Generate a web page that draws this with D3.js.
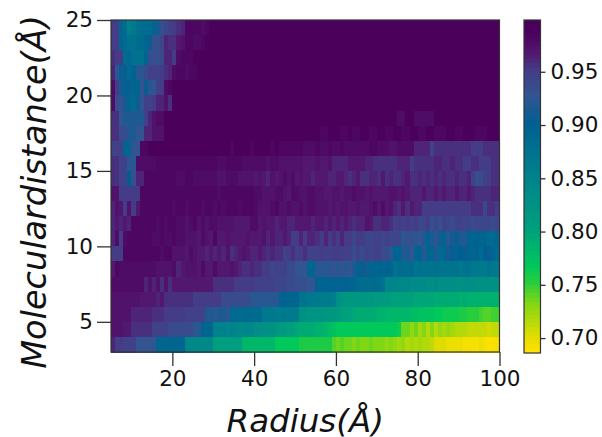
<!DOCTYPE html>
<meta charset="utf-8">
<script src="https://d3js.org/d3.v7.min.js"></script>
<style>
    html, body { margin: 0; background: #fff; overflow: hidden; }
    text { font-family: "DejaVu Sans", sans-serif; fill: #111; }
</style>
<div id="chart"></div>
<script>
// tick labels
var radiusTicks = [20, 40, 60, 80, 100];
var distanceTicks = [5, 10, 15, 20, 25];
var colorTicks = [0.70, 0.75, 0.80, 0.85, 0.90, 0.95];

// colorbar stops
var colorStops = [0.686, 0.70, 0.73, 0.75, 0.765, 0.80, 0.85, 0.90, 0.925, 0.95, 0.965, 0.985, 0.9986];
var colorValues = ["#ffe100", "#e1dc00", "#82d714", "#28cd3c", "#00c85a", "#00a07d", "#00828c", "#005f91", "#325591", "#443c87", "#52186f", "#4b005c", "#4a005a"];

// cell values, top row (distance 24-25) first, radius 5 to 100 left to right
var cells = [
[.95,.95,.89,.88,.85,.865,.875,.88,.88,.885,.89,.91,.93,.94,.945,.95,.955,.96,.98,.98,.98,.98,.975,.98,.985,
.99,.99,.985,.985,.99,.99,.99,.99,.99,.99,.99,.99,.99,.99,.99,.99,.99,.99,.99,.99,.99,.99,.99,.99,.99,
.99,.99,.99,.99,.99,.99,.99,.99,.99,.99,.99,.99,.99,.99,.99,.99,.99,.99,.99,.99,.99,.99,.99,.99,.99,
.99,.99,.99,.99,.99,.99,.99,.99,.99,.99,.99,.99,.99,.99,.99,.99,.99,.99,.99,.99],
[.95,.95,.89,.885,.875,.875,.88,.885,.89,.905,.93,.93,.94,.96,.955,.955,.965,.97,.98,.98,.975,.975,.98,.985,.99,
.99,.99,.99,.99,.99,.99,.99,.99,.99,.99,.99,.99,.99,.99,.99,.99,.99,.99,.99,.99,.99,.99,.99,.99,.99,
.99,.99,.99,.99,.99,.99,.985,.985,.99,.99,.99,.99,.99,.99,.99,.99,.99,.99,.99,.99,.99,.99,.99,.99,.99,
.99,.99,.99,.99,.99,.99,.99,.99,.99,.99,.99,.99,.99,.99,.99,.99,.99,.99,.99,.99],
[.955,.95,.95,.88,.885,.875,.875,.875,.89,.93,.93,.93,.935,.96,.96,.95,.975,.98,.98,.98,.985,.985,.99,.99,.99,
.99,.99,.99,.99,.99,.99,.99,.99,.99,.99,.99,.99,.99,.99,.99,.99,.99,.99,.99,.99,.99,.99,.99,.99,.99,
.99,.99,.99,.99,.99,.99,.985,.985,.99,.99,.99,.99,.99,.99,.99,.99,.99,.99,.99,.99,.99,.99,.99,.99,.99,
.99,.99,.99,.99,.99,.99,.99,.99,.99,.99,.99,.99,.99,.99,.99,.99,.99,.99,.99,.99],
[.96,.92,.905,.905,.885,.895,.92,.92,.935,.945,.945,.945,.95,.955,.96,.975,.98,.98,.975,.98,.98,.985,.985,.985,.99,
.99,.99,.99,.99,.99,.99,.99,.99,.99,.99,.99,.99,.99,.99,.99,.99,.99,.985,.99,.99,.99,.99,.99,.99,.99,
.985,.985,.99,.99,.99,.985,.985,.985,.99,.99,.99,.99,.99,.99,.99,.99,.99,.99,.99,.99,.99,.99,.99,.99,.99,
.99,.99,.99,.99,.99,.99,.99,.99,.99,.99,.99,.99,.99,.99,.99,.99,.99,.99,.99,.99],
[.975,.95,.91,.895,.905,.89,.895,.925,.905,.92,.925,.945,.95,.975,.98,.985,.985,.985,.99,.99,.99,.99,.99,.99,.99,
.99,.99,.99,.99,.99,.99,.99,.99,.99,.99,.99,.99,.99,.99,.99,.99,.99,.99,.99,.99,.99,.985,.985,.985,.99,
.99,.985,.985,.985,.985,.985,.985,.99,.99,.99,.99,.99,.99,.99,.99,.99,.99,.99,.99,.99,.99,.99,.99,.99,.99,
.99,.99,.99,.99,.99,.99,.99,.99,.99,.99,.99,.99,.99,.99,.99,.99,.99,.99,.99,.99],
[.975,.935,.93,.91,.89,.885,.91,.925,.945,.945,.95,.96,.96,.97,.955,.985,.985,.985,.985,.99,.99,.99,.99,.99,.99,
.99,.99,.99,.99,.99,.99,.99,.99,.99,.99,.99,.99,.99,.99,.99,.99,.99,.99,.99,.99,.985,.985,.985,.985,.985,
.985,.985,.985,.985,.985,.985,.985,.985,.985,.985,.985,.985,.985,.985,.985,.985,.985,.99,.99,.99,.985,.99,.99,.99,.99,
.99,.99,.99,.99,.99,.99,.99,.99,.99,.99,.99,.99,.99,.99,.99,.99,.99,.99,.99,.99],
[.955,.955,.925,.915,.915,.915,.915,.915,.945,.96,.97,.975,.975,.985,.985,.99,.99,.99,.99,.99,.99,.99,.99,.99,.99,
.99,.99,.99,.99,.99,.99,.99,.99,.99,.99,.99,.99,.99,.99,.99,.99,.99,.99,.99,.99,.985,.985,.985,.985,.985,
.985,.985,.985,.985,.985,.985,.985,.985,.985,.985,.985,.985,.985,.985,.985,.985,.985,.985,.985,.985,.975,.975,.985,.985,.975,
.975,.975,.975,.975,.985,.985,.985,.985,.985,.985,.985,.985,.985,.985,.985,.985,.985,.985,.985,.985],
[.955,.955,.935,.935,.915,.915,.925,.925,.96,.96,.97,.97,.97,.985,.985,.985,.985,.985,.99,.99,.99,.99,.99,.99,.99,
.99,.99,.99,.99,.99,.99,.99,.99,.99,.99,.99,.99,.99,.99,.99,.99,.99,.99,.99,.99,.985,.985,.985,.985,.985,
.985,.98,.98,.985,.985,.985,.98,.98,.985,.98,.98,.985,.985,.98,.98,.985,.985,.98,.98,.985,.985,.98,.98,.985,.985,
.98,.98,.985,.985,.98,.98,.98,.985,.985,.98,.98,.985,.985,.985,.98,.98,.98,.985,.985,.985],
[.945,.945,.945,.89,.89,.925,.925,.98,.98,.985,.985,.985,.985,.985,.985,.985,.985,.985,.985,.985,.985,.985,.985,.985,.985,
.985,.985,.985,.985,.98,.985,.985,.985,.985,.98,.985,.985,.985,.985,.98,.985,.98,.98,.98,.98,.98,.98,.975,.975,.975,
.98,.975,.975,.98,.975,.975,.98,.975,.975,.975,.975,.975,.975,.98,.98,.975,.975,.975,.97,.97,.975,.975,.975,.975,.96,
.96,.96,.96,.945,.955,.955,.955,.955,.955,.955,.955,.955,.955,.95,.95,.95,.955,.955,.955,.955],
[.955,.955,.945,.945,.92,.92,.975,.975,.975,.975,.975,.98,.98,.98,.98,.98,.98,.98,.98,.98,.98,.98,.98,.98,.98,
.98,.975,.975,.98,.98,.98,.98,.975,.975,.975,.975,.975,.975,.97,.975,.975,.97,.97,.97,.97,.97,.97,.965,.965,.965,
.97,.965,.965,.97,.96,.96,.96,.96,.965,.965,.965,.965,.96,.96,.955,.955,.955,.955,.955,.955,.96,.96,.96,.95,.955,
.955,.955,.955,.955,.96,.96,.955,.955,.96,.955,.955,.95,.95,.955,.955,.95,.95,.95,.955,.955],
[.955,.955,.945,.945,.90,.93,.96,.96,.98,.98,.98,.98,.98,.98,.98,.98,.975,.975,.98,.98,.975,.975,.975,.975,.975,
.975,.97,.97,.975,.975,.975,.97,.97,.97,.97,.965,.97,.965,.96,.97,.965,.97,.975,.97,.975,.965,.97,.965,.965,.96,
.965,.965,.965,.96,.96,.965,.965,.96,.955,.96,.965,.955,.955,.96,.96,.955,.965,.955,.96,.955,.955,.96,.965,.955,.955,
.96,.955,.96,.955,.96,.955,.96,.955,.955,.96,.955,.955,.96,.945,.93,.935,.945,.95,.955,.955],
[.97,.97,.95,.95,.95,.95,.95,.98,.98,.98,.98,.98,.98,.98,.98,.98,.98,.98,.98,.98,.98,.98,.98,.98,.98,
.98,.975,.98,.98,.98,.98,.98,.98,.98,.98,.975,.975,.97,.97,.97,.975,.975,.97,.965,.975,.975,.97,.97,.975,.975,
.97,.97,.965,.965,.97,.97,.965,.97,.97,.975,.97,.97,.965,.97,.965,.965,.965,.965,.97,.97,.965,.97,.965,.96,.96,
.96,.965,.96,.96,.965,.96,.965,.96,.96,.965,.96,.96,.965,.96,.955,.955,.955,.955,.96,.96],
[.96,.97,.965,.95,.97,.95,.965,.98,.98,.98,.98,.98,.98,.98,.98,.975,.98,.98,.975,.98,.98,.98,.975,.98,.98,
.975,.98,.975,.98,.98,.98,.975,.98,.98,.98,.975,.97,.97,.97,.975,.98,.97,.97,.975,.97,.97,.975,.97,.975,.975,
.97,.97,.97,.965,.97,.965,.97,.97,.965,.965,.97,.965,.965,.97,.975,.965,.975,.965,.97,.96,.955,.965,.955,.965,.96,
.96,.95,.95,.95,.95,.95,.95,.95,.95,.95,.95,.95,.95,.955,.955,.955,.94,.955,.955,.95],
[.96,.965,.96,.965,.96,.98,.98,.98,.98,.98,.98,.975,.98,.975,.98,.98,.975,.975,.97,.975,.98,.97,.975,.97,.975,
.975,.97,.97,.97,.97,.965,.965,.965,.965,.975,.975,.965,.97,.965,.965,.96,.965,.965,.96,.96,.965,.965,.965,.965,.96,
.965,.965,.96,.965,.96,.965,.96,.965,.96,.955,.96,.96,.97,.965,.955,.955,.96,.96,.955,.945,.95,.945,.95,.945,.95,
.94,.94,.95,.93,.94,.93,.945,.94,.935,.945,.945,.94,.94,.935,.94,.94,.94,.94,.935,.94],
[.96,.975,.95,.975,.98,.98,.98,.98,.98,.98,.975,.975,.98,.975,.975,.98,.975,.975,.97,.97,.97,.965,.975,.97,.965,
.98,.965,.965,.97,.965,.965,.965,.965,.97,.965,.965,.965,.97,.96,.965,.96,.96,.965,.96,.95,.95,.96,.95,.96,.96,
.955,.95,.96,.95,.955,.95,.96,.95,.95,.94,.95,.95,.94,.94,.945,.945,.94,.945,.94,.94,.94,.92,.93,.93,.92,
.925,.915,.895,.915,.92,.91,.89,.92,.91,.905,.915,.915,.895,.895,.895,.89,.89,.885,.885,.89],
[.95,.95,.95,.98,.98,.98,.98,.98,.98,.98,.98,.98,.975,.98,.98,.97,.97,.97,.965,.975,.97,.965,.965,.96,.965,
.96,.965,.96,.97,.955,.96,.965,.97,.965,.96,.96,.965,.96,.955,.96,.955,.955,.945,.95,.955,.945,.95,.955,.945,.945,
.945,.95,.945,.945,.95,.95,.945,.945,.945,.935,.945,.935,.945,.94,.945,.945,.935,.935,.92,.895,.895,.915,.915,.925,.89,
.895,.92,.89,.89,.915,.885,.89,.91,.905,.895,.9,.905,.895,.89,.895,.885,.9,.905,.89,.885],
[.965,.98,.975,.975,.975,.975,.975,.975,.975,.975,.975,.97,.97,.97,.97,.975,.96,.965,.97,.97,.97,.965,.975,.965,.965,
.975,.965,.965,.965,.97,.965,.96,.955,.955,.96,.955,.955,.95,.95,.94,.945,.945,.945,.935,.935,.925,.925,.925,.89,.89,
.92,.92,.92,.92,.925,.92,.925,.92,.925,.915,.895,.905,.91,.89,.89,.895,.89,.895,.89,.875,.88,.88,.88,.88,.87,
.875,.87,.87,.87,.875,.87,.87,.87,.87,.87,.865,.87,.87,.865,.865,.86,.86,.87,.865,.865],
[.975,.975,.975,.975,.975,.975,.975,.975,.96,.97,.96,.97,.955,.97,.955,.965,.965,.965,.965,.965,.965,.965,.965,.965,.965,
.955,.955,.955,.955,.955,.95,.95,.95,.95,.95,.945,.945,.945,.945,.945,.94,.94,.94,.935,.935,.93,.93,.93,.925,.925,
.895,.895,.895,.895,.895,.895,.895,.895,.89,.89,.885,.88,.88,.88,.885,.88,.875,.845,.845,.845,.845,.84,.84,.835,.835,
.835,.835,.83,.83,.835,.83,.83,.83,.83,.825,.825,.83,.83,.83,.825,.825,.825,.825,.825,.825],
[.97,.97,.97,.97,.97,.97,.97,.965,.965,.965,.965,.96,.965,.955,.955,.955,.955,.955,.955,.955,.95,.95,.95,.95,.95,
.95,.95,.935,.935,.935,.935,.935,.935,.935,.92,.92,.92,.92,.92,.92,.92,.89,.895,.89,.89,.89,.87,.87,.865,.865,
.865,.86,.86,.86,.855,.83,.82,.815,.815,.815,.815,.815,.815,.815,.81,.81,.81,.81,.805,.80,.80,.80,.80,.80,.795,
.795,.795,.795,.795,.79,.79,.79,.79,.79,.79,.785,.79,.785,.785,.785,.785,.785,.785,.785,.785],
[.97,.97,.97,.97,.97,.96,.96,.96,.96,.96,.955,.955,.955,.95,.95,.95,.95,.95,.945,.945,.945,.945,.945,.915,.915,
.92,.915,.915,.92,.885,.885,.88,.885,.885,.885,.88,.885,.865,.865,.865,.86,.86,.865,.86,.86,.86,.825,.825,.82,.82,
.82,.82,.815,.815,.815,.81,.80,.80,.80,.795,.79,.79,.79,.79,.79,.785,.785,.78,.78,.78,.78,.78,.78,.775,.775,
.77,.77,.77,.77,.765,.765,.76,.76,.76,.76,.755,.755,.75,.75,.75,.745,.74,.74,.745,.745],
[.97,.97,.97,.965,.965,.955,.955,.955,.955,.955,.945,.945,.945,.945,.935,.935,.935,.935,.935,.935,.92,.92,.89,.89,.89,
.85,.85,.85,.845,.85,.845,.84,.84,.845,.84,.83,.83,.825,.825,.825,.815,.81,.81,.80,.80,.795,.79,.79,.79,.79,
.785,.785,.78,.775,.77,.765,.765,.765,.765,.765,.765,.765,.765,.765,.765,.765,.765,.765,.765,.765,.76,.735,.735,.725,.735,
.72,.73,.715,.73,.715,.725,.72,.725,.72,.715,.715,.715,.71,.71,.71,.71,.71,.705,.71,.71],
[.96,.95,.95,.945,.945,.945,.925,.925,.925,.925,.925,.89,.89,.89,.89,.89,.89,.89,.84,.84,.84,.84,.84,.84,.84,
.805,.805,.805,.805,.805,.805,.805,.78,.78,.78,.78,.78,.78,.78,.78,.765,.765,.765,.765,.765,.765,.755,.755,.755,.755,
.755,.755,.755,.755,.74,.735,.74,.735,.735,.73,.735,.73,.73,.735,.73,.73,.73,.725,.73,.725,.72,.725,.715,.72,.715,
.72,.715,.715,.71,.70,.70,.70,.695,.695,.695,.695,.69,.69,.69,.69,.695,.69,.688,.688,.69]
];

var margin = {left: 111, right: 499.5, top: 20, bottom: 352};
var barLeft = 524, barRight = 540.5, barTop = 20, barBottom = 353;

var svg = d3.select("#chart").append("svg")
    .attr("width", 602)
    .attr("height", 437);

var x = d3.scaleLinear().domain([5, 100]).range([margin.left, margin.right]);
var y = d3.scaleLinear().domain([3, 25]).range([margin.bottom, margin.top]);
var color = d3.scaleLinear().domain(colorStops).range(colorValues);
var barScale = d3.scaleLinear().domain([0.686, 0.9986]).range([barBottom, barTop]);

// heatmap cells
svg.append("g").attr("shape-rendering", "crispEdges").selectAll("g")
    .data(cells)
    .join("g")
    .each(function(row, i) {
        d3.select(this).selectAll("rect")
            .data(row)
            .join("rect")
            .attr("x", function(d, j) { return x(5 + j); })
            .attr("y", y(25 - i))
            .attr("width", x(6) - x(5) + 0.5)
            .attr("height", y(24) - y(25) + 0.5)
            .attr("fill", function(d) { return color(d); });
    });

// axes
var xAxis = svg.append("g")
    .attr("transform", "translate(0," + margin.bottom + ")")
    .call(d3.axisBottom(x).tickValues(radiusTicks).tickSize(14).tickPadding(5));
var yAxis = svg.append("g")
    .attr("transform", "translate(" + margin.left + ",0)")
    .call(d3.axisLeft(y).tickValues(distanceTicks).tickSize(14).tickPadding(4));

// colorbar, drawn as thin bands like the original
var bands = d3.range(0.686, 0.9946, 0.004);
svg.append("g").attr("shape-rendering", "crispEdges").selectAll("rect")
    .data(bands)
    .join("rect")
    .attr("x", barLeft)
    .attr("width", barRight - barLeft)
    .attr("y", function(d) { return barScale(d + 0.004) - 0.5; })
    .attr("height", function(d) { return barScale(d) - barScale(d + 0.004) + 0.5; })
    .attr("fill", function(d) { return color(d); });

var barAxis = svg.append("g")
    .attr("transform", "translate(" + barRight + ",0)")
    .call(d3.axisRight(barScale).tickValues(colorTicks).tickSize(5).tickPadding(5).tickFormat(d3.format(".2f")));

[xAxis, yAxis, barAxis].forEach(function(a) {
    a.select(".domain").remove();
    a.selectAll("text").style("font-size", "21.5px").style("font-family", '"DejaVu Sans"').attr("fill", "#111");
    a.selectAll("line").attr("stroke", "#333").attr("stroke-width", 1.3);
});

// frames
svg.append("rect")
    .attr("x", margin.left).attr("y", margin.top)
    .attr("width", margin.right - margin.left).attr("height", margin.bottom - margin.top)
    .attr("fill", "none").attr("stroke", "#333").attr("stroke-width", 1.2);
svg.append("rect")
    .attr("x", barLeft).attr("y", barTop)
    .attr("width", barRight - barLeft).attr("height", barBottom - barTop)
    .attr("fill", "none").attr("stroke", "#333").attr("stroke-width", 1.2);

// labels
svg.append("text")
    .attr("x", (margin.left + margin.right) / 2)
    .attr("y", 432)
    .attr("text-anchor", "middle")
    .style("font-size", "32.5px")
    .style("font-style", "oblique")
    .text("Radius(Å)");
svg.append("text")
    .attr("transform", "translate(46,192) rotate(-90)")
    .attr("text-anchor", "middle")
    .style("font-size", "33.5px")
    .style("font-style", "oblique")
    .text("Moleculardistance(Å)");
</script>
